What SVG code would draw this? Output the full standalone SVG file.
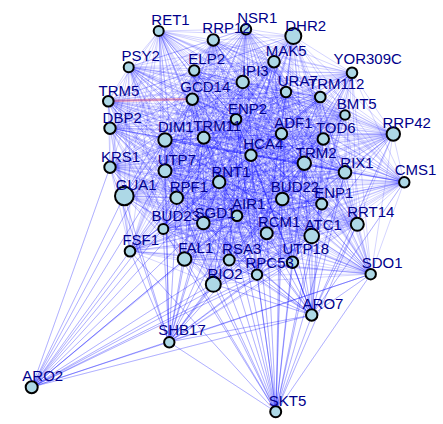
<svg xmlns="http://www.w3.org/2000/svg" width="443" height="424" viewBox="0 0 443 424">
<style>
.e path{fill:none;stroke:#0000ff;stroke-opacity:.17;stroke-width:1;stroke-linejoin:round}
.e .red{stroke:#ff2020;stroke-opacity:.3;stroke-width:2.5}
.n circle{fill:#add8e6;stroke:#000;stroke-width:2}
.n text{font-family:"Liberation Sans",Arial,sans-serif;font-size:15px;fill:#00008b;text-anchor:middle}
</style>
<rect width="443" height="424" fill="#fff"/>
<g id="edges" class="e">
<path d="M129 67 159 31 108 101 129 67 110 128 159 31 194 71 129 67 192 99 159 31 213 40 129 67 246 29 159 31 293 36 129 67 274 62 159 31 352 73 129 67 243 82 159 31 286 92 129 67 320 97 159 31 345 115 129 67 236 119 159 31 281 134 129 67 323 139 159 31 393 134 129 67 165 140 159 31 204 138 129 67 251 155 159 31 304 163 129 67 345 172 159 31 404 182 129 67 110 167 159 31 165 171 129 67 219 182 159 31 124 196 129 67 177 198 159 31 282 199 129 67 322 204 159 31 357 224 129 67 237 216 159 31 203 223 129 67 163 229 159 31 267 233 129 67 312 236 159 31 130 251 129 67 185 259 159 31 229 260 129 67 292 262 159 31 257 275 129 67 371 274 159 31 213 284 129 67"/>
<path d="M110 128 108 101 194 71 110 128 192 99 108 101 213 40 110 128 246 29 108 101 293 36 110 128 274 62 108 101 352 73 110 128 243 82 108 101 286 92 110 128 320 97 108 101 345 115 110 128 236 119 108 101 281 134 110 128 323 139 108 101 393 134 110 128 165 140 108 101 204 138 110 128 251 155 108 101 304 163 110 128 345 172 108 101 404 182 110 128 110 167 108 101 165 171 110 128 219 182 108 101 124 196 110 128 177 198 108 101 282 199 110 128 322 204 108 101 357 224 110 128 237 216 108 101 203 223 110 128 163 229 108 101 267 233 110 128 312 236 108 101 130 251 110 128 185 259 108 101 229 260 110 128 292 262 108 101 257 275 110 128 371 274 108 101 213 284 110 128"/>
<path d="M192 99 194 71 213 40 192 99 246 29 194 71 293 36 192 99 274 62 194 71 352 73 192 99 243 82 194 71 286 92 192 99 320 97 194 71 345 115 192 99 236 119 194 71 281 134 192 99 323 139 194 71 393 134 192 99 165 140 194 71 204 138 192 99 251 155 194 71 304 163 192 99 345 172 194 71 404 182 192 99 110 167 194 71 165 171 192 99 219 182 194 71 124 196 192 99 177 198 194 71 282 199 192 99 322 204 194 71 357 224 192 99 237 216 194 71 203 223 192 99 163 229 194 71 267 233 192 99 312 236 194 71 130 251 192 99 185 259 194 71 229 260 192 99 292 262 194 71 257 275 192 99 371 274 194 71 213 284 192 99"/>
<path d="M246 29 213 40 293 36 246 29 274 62 213 40 352 73 246 29 243 82 213 40 286 92 246 29 320 97 213 40 345 115 246 29 236 119 213 40 281 134 246 29 323 139 213 40 393 134 246 29 165 140 213 40 204 138 246 29 251 155 213 40 304 163 246 29 345 172 213 40 404 182 246 29 110 167 213 40 165 171 246 29 219 182 213 40 124 196 246 29 177 198 213 40 282 199 246 29 322 204 213 40 357 224 246 29 237 216 213 40 203 223 246 29 163 229 213 40 267 233 246 29 312 236 213 40 130 251 246 29 185 259 213 40 229 260 246 29 292 262 213 40 257 275 246 29 371 274 213 40 213 284 246 29"/>
<path d="M274 62 293 36 352 73 274 62 243 82 293 36 286 92 274 62 320 97 293 36 345 115 274 62 236 119 293 36 281 134 274 62 323 139 293 36 393 134 274 62 165 140 293 36 204 138 274 62 251 155 293 36 304 163 274 62 345 172 293 36 404 182 274 62 110 167 293 36 165 171 274 62 219 182 293 36 124 196 274 62 177 198 293 36 282 199 274 62 322 204 293 36 357 224 274 62 237 216 293 36 203 223 274 62 163 229 293 36 267 233 274 62 312 236 293 36 130 251 274 62 185 259 293 36 229 260 274 62 292 262 293 36 257 275 274 62 371 274 293 36 213 284 274 62"/>
<path d="M243 82 352 73 286 92 243 82 320 97 352 73 345 115 243 82 236 119 352 73 281 134 243 82 323 139 352 73 393 134 243 82 165 140 352 73 204 138 243 82 251 155 352 73 304 163 243 82 345 172 352 73 404 182 243 82 110 167 352 73 165 171 243 82 219 182 352 73 124 196 243 82 177 198 352 73 282 199 243 82 322 204 352 73 357 224 243 82 237 216 352 73 203 223 243 82 163 229 352 73 267 233 243 82 312 236 352 73 130 251 243 82 185 259 352 73 229 260 243 82 292 262 352 73 257 275 243 82 371 274 352 73 213 284 243 82"/>
<path d="M320 97 286 92 345 115 320 97 236 119 286 92 281 134 320 97 323 139 286 92 393 134 320 97 165 140 286 92 204 138 320 97 251 155 286 92 304 163 320 97 345 172 286 92 404 182 320 97 110 167 286 92 165 171 320 97 219 182 286 92 124 196 320 97 177 198 286 92 282 199 320 97 322 204 286 92 357 224 320 97 237 216 286 92 203 223 320 97 163 229 286 92 267 233 320 97 312 236 286 92 130 251 320 97 185 259 286 92 229 260 320 97 292 262 286 92 257 275 320 97 371 274 286 92 213 284 320 97"/>
<path d="M236 119 345 115 281 134 236 119 323 139 345 115 393 134 236 119 165 140 345 115 204 138 236 119 251 155 345 115 304 163 236 119 345 172 345 115 404 182 236 119 110 167 345 115 165 171 236 119 219 182 345 115 124 196 236 119 177 198 345 115 282 199 236 119 322 204 345 115 357 224 236 119 237 216 345 115 203 223 236 119 163 229 345 115 267 233 236 119 312 236 345 115 130 251 236 119 185 259 345 115 229 260 236 119 292 262 345 115 257 275 236 119 371 274 345 115 213 284 236 119"/>
<path d="M323 139 281 134 393 134 323 139 165 140 281 134 204 138 323 139 251 155 281 134 304 163 323 139 345 172 281 134 404 182 323 139 110 167 281 134 165 171 323 139 219 182 281 134 124 196 323 139 177 198 281 134 282 199 323 139 322 204 281 134 357 224 323 139 237 216 281 134 203 223 323 139 163 229 281 134 267 233 323 139 312 236 281 134 130 251 323 139 185 259 281 134 229 260 323 139 292 262 281 134 257 275 323 139 371 274 281 134 213 284 323 139"/>
<path d="M165 140 393 134 204 138 165 140 251 155 393 134 304 163 165 140 345 172 393 134 404 182 165 140 110 167 393 134 165 171 165 140 219 182 393 134 124 196 165 140 177 198 393 134 282 199 165 140 322 204 393 134 357 224 165 140 237 216 393 134 203 223 165 140 163 229 393 134 267 233 165 140 312 236 393 134 130 251 165 140 185 259 393 134 229 260 165 140 292 262 393 134 257 275 165 140 371 274 393 134 213 284 165 140"/>
<path d="M251 155 204 138 304 163 251 155 345 172 204 138 404 182 251 155 110 167 204 138 165 171 251 155 219 182 204 138 124 196 251 155 177 198 204 138 282 199 251 155 322 204 204 138 357 224 251 155 237 216 204 138 203 223 251 155 163 229 204 138 267 233 251 155 312 236 204 138 130 251 251 155 185 259 204 138 229 260 251 155 292 262 204 138 257 275 251 155 371 274 204 138 213 284 251 155"/>
<path d="M345 172 304 163 404 182 345 172 110 167 304 163 165 171 345 172 219 182 304 163 124 196 345 172 177 198 304 163 282 199 345 172 322 204 304 163 357 224 345 172 237 216 304 163 203 223 345 172 163 229 304 163 267 233 345 172 312 236 304 163 130 251 345 172 185 259 304 163 229 260 345 172 292 262 304 163 257 275 345 172 371 274 304 163 213 284 345 172"/>
<path d="M110 167 404 182 165 171 110 167 219 182 404 182 124 196 110 167 177 198 404 182 282 199 110 167 322 204 404 182 357 224 110 167 237 216 404 182 203 223 110 167 163 229 404 182 267 233 110 167 312 236 404 182 130 251 110 167 185 259 404 182 229 260 110 167 292 262 404 182 257 275 110 167 371 274 404 182 213 284 110 167"/>
<path d="M219 182 165 171 124 196 219 182 177 198 165 171 282 199 219 182 322 204 165 171 357 224 219 182 237 216 165 171 203 223 219 182 163 229 165 171 267 233 219 182 312 236 165 171 130 251 219 182 185 259 165 171 229 260 219 182 292 262 165 171 257 275 219 182 371 274 165 171 213 284 219 182"/>
<path d="M177 198 124 196 282 199 177 198 322 204 124 196 357 224 177 198 237 216 124 196 203 223 177 198 163 229 124 196 267 233 177 198 312 236 124 196 130 251 177 198 185 259 124 196 229 260 177 198 292 262 124 196 257 275 177 198 371 274 124 196 213 284 177 198"/>
<path d="M322 204 282 199 357 224 322 204 237 216 282 199 203 223 322 204 163 229 282 199 267 233 322 204 312 236 282 199 130 251 322 204 185 259 282 199 229 260 322 204 292 262 282 199 257 275 322 204 371 274 282 199 213 284 322 204"/>
<path d="M237 216 357 224 203 223 237 216 163 229 357 224 267 233 237 216 312 236 357 224 130 251 237 216 185 259 357 224 229 260 237 216 292 262 357 224 257 275 237 216 371 274 357 224 213 284 237 216"/>
<path d="M163 229 203 223 267 233 163 229 312 236 203 223 130 251 163 229 185 259 203 223 229 260 163 229 292 262 203 223 257 275 163 229 371 274 203 223 213 284 163 229"/>
<path d="M312 236 267 233 130 251 312 236 185 259 267 233 229 260 312 236 292 262 267 233 257 275 312 236 371 274 267 233 213 284 312 236"/>
<path d="M185 259 130 251 229 260 185 259 292 262 130 251 257 275 185 259 371 274 130 251 213 284 185 259"/>
<path d="M292 262 229 260 257 275 292 262 371 274 229 260 213 284 292 262"/>
<path d="M371 274 257 275 213 284 371 274"/>
<path d="M312 315 371 274 312 315 357 224 312 315 312 236 312 315 292 262 312 315 257 275 312 315 267 233 312 315 322 204 312 315 282 199 312 315 345 172 312 315 304 163 312 315 323 139 312 315 281 134 312 315 251 155 312 315 237 216 312 315 229 260 312 315 213 284 312 315 185 259 312 315 203 223 312 315 219 182 312 315 236 119 312 315 404 182 312 315 393 134 312 315 177 198 312 315 124 196"/>
<path d="M169 342 124 196 169 342 130 251 169 342 163 229 169 342 185 259 169 342 177 198 169 342 203 223 169 342 165 171 169 342 165 140 169 342 219 182 169 342 237 216 169 342 229 260 169 342 213 284 169 342 257 275 169 342 292 262 169 342 267 233 169 342 312 236 169 342 312 315 169 342 204 138 169 342 251 155 169 342 282 199 169 342 110 167 169 342 371 274 169 342 357 224"/>
<path d="M32 387 110 167 32 387 124 196 32 387 130 251 32 387 163 229 32 387 177 198 32 387 185 259 32 387 203 223 32 387 219 182 32 387 237 216 32 387 213 284 32 387 229 260 32 387 169 342 32 387 257 275 32 387 292 262 32 387 312 236 32 387 312 315 32 387 371 274 32 387 165 140 32 387 165 171 32 387 304 163"/>
<path d="M276 412 169 342 276 412 213 284 276 412 185 259 276 412 229 260 276 412 257 275 276 412 292 262 276 412 267 233 276 412 312 236 276 412 237 216 276 412 203 223 276 412 219 182 276 412 282 199 276 412 322 204 276 412 357 224 276 412 371 274 276 412 312 315 276 412 251 155 276 412 304 163 276 412 345 172 276 412 177 198 276 412 163 229 276 412 281 134 276 412 236 119 276 412 130 251 276 412 286 92"/>
<path class="red" d="M108 101 192 99"/>
</g>
<g id="n-RET1" class="n"><circle cx="158.7" cy="31" r="5"/><text x="170.5" y="25">RET1</text></g>
<g id="n-PSY2" class="n"><circle cx="128.7" cy="67.3" r="5"/><text x="140.7" y="61">PSY2</text></g>
<g id="n-TRM5" class="n"><circle cx="108.3" cy="101.3" r="5.3"/><text x="119" y="96">TRM5</text></g>
<g id="n-DBP2" class="n"><circle cx="110" cy="128.3" r="5.7"/><text x="122.2" y="123.3">DBP2</text></g>
<g id="n-ELP2" class="n"><circle cx="194.2" cy="70.5" r="5.2"/><text x="206.7" y="64.3">ELP2</text></g>
<g id="n-GCD14" class="n"><circle cx="192.3" cy="99.3" r="5.7"/><text x="205.3" y="92">GCD14</text></g>
<g id="n-NSR1" class="n"><circle cx="246" cy="29.3" r="5.2"/><text x="257.3" y="22.7">NSR1</text></g>
<g id="n-RRP12" class="n"><circle cx="213.3" cy="40" r="5.7"/><text x="226.5" y="33.3">RRP12</text></g>
<g id="n-DHR2" class="n"><circle cx="293.3" cy="36" r="8"/><text x="305.7" y="30.7">DHR2</text></g>
<g id="n-MAK5" class="n"><circle cx="274" cy="61.7" r="5.8"/><text x="286.2" y="56">MAK5</text></g>
<g id="n-YOR309C" class="n"><circle cx="352" cy="72.7" r="5.3"/><text x="367.7" y="64.3">YOR309C</text></g>
<g id="n-IPI3" class="n"><circle cx="242.7" cy="82" r="6.2"/><text x="255.3" y="76">IPI3</text></g>
<g id="n-URA7" class="n"><circle cx="286" cy="92" r="5.2"/><text x="297.8" y="86">URA7</text></g>
<g id="n-TRM112" class="n"><circle cx="320.3" cy="97" r="5.3"/><text x="336.2" y="89">TRM112</text></g>
<g id="n-BMT5" class="n"><circle cx="345" cy="115" r="4.8"/><text x="356.7" y="109.3">BMT5</text></g>
<g id="n-ENP2" class="n"><circle cx="236" cy="119.3" r="5.3"/><text x="247.5" y="114.3">ENP2</text></g>
<g id="n-ADF1" class="n"><circle cx="281.5" cy="133.7" r="5.7"/><text x="293.3" y="128.3">ADF1</text></g>
<g id="n-TOD6" class="n"><circle cx="323.3" cy="139" r="5.7"/><text x="335.8" y="133.3">TOD6</text></g>
<g id="n-RRP42" class="n"><circle cx="393.3" cy="134" r="6.7"/><text x="406.7" y="127.7">RRP42</text></g>
<g id="n-DIM1" class="n"><circle cx="165" cy="140" r="6.7"/><text x="175.8" y="132.3">DIM1</text></g>
<g id="n-TRM11" class="n"><circle cx="203.7" cy="137.7" r="6"/><text x="217.2" y="130.7">TRM11</text></g>
<g id="n-HCA4" class="n"><circle cx="251" cy="155.2" r="5.7"/><text x="263.3" y="149">HCA4</text></g>
<g id="n-TRM2" class="n"><circle cx="304.3" cy="163.3" r="6.7"/><text x="316.2" y="157.7">TRM2</text></g>
<g id="n-RIX1" class="n"><circle cx="345" cy="172.3" r="6.3"/><text x="357" y="167.7">RIX1</text></g>
<g id="n-CMS1" class="n"><circle cx="404.3" cy="182.3" r="5.2"/><text x="415.5" y="175.3">CMS1</text></g>
<g id="n-KRS1" class="n"><circle cx="110" cy="167.3" r="5.7"/><text x="120.5" y="161.7">KRS1</text></g>
<g id="n-UTP7" class="n"><circle cx="165" cy="170.8" r="6.5"/><text x="176.8" y="165">UTP7</text></g>
<g id="n-RNT1" class="n"><circle cx="219.2" cy="182" r="6.2"/><text x="231" y="176.7">RNT1</text></g>
<g id="n-GUA1" class="n"><circle cx="124.3" cy="196" r="9.3"/><text x="136.3" y="190">GUA1</text></g>
<g id="n-RPF1" class="n"><circle cx="176.7" cy="197.7" r="6.3"/><text x="188.8" y="191.7">RPF1</text></g>
<g id="n-ENP1" class="n"><circle cx="321.7" cy="204" r="5.5"/><text x="333.8" y="197.7">ENP1</text></g>
<g id="n-BUD22" class="n"><circle cx="282.3" cy="199" r="6.3"/><text x="295" y="191.7">BUD22</text></g>
<g id="n-RRT14" class="n"><circle cx="357.3" cy="224.3" r="6.5"/><text x="370.8" y="217.3">RRT14</text></g>
<g id="n-AIR1" class="n"><circle cx="237" cy="215.7" r="5.3"/><text x="248.8" y="209">AIR1</text></g>
<g id="n-SGD1" class="n"><circle cx="203.3" cy="223" r="6.3"/><text x="215" y="218.3">SGD1</text></g>
<g id="n-BUD23" class="n"><circle cx="163.3" cy="229" r="5"/><text x="175.8" y="221">BUD23</text></g>
<g id="n-RCM1" class="n"><circle cx="266.7" cy="233.3" r="6"/><text x="279.2" y="226.7">RCM1</text></g>
<g id="n-ATC1" class="n"><circle cx="311.7" cy="236" r="7.3"/><text x="323.3" y="230">ATC1</text></g>
<g id="n-FSF1" class="n"><circle cx="130" cy="251.3" r="5.3"/><text x="140.8" y="245">FSF1</text></g>
<g id="n-FAL1" class="n"><circle cx="184.5" cy="259" r="6.8"/><text x="195.8" y="252.7">FAL1</text></g>
<g id="n-RSA3" class="n"><circle cx="229.2" cy="260" r="5.5"/><text x="241.7" y="254.3">RSA3</text></g>
<g id="n-UTP18" class="n"><circle cx="292.5" cy="262.3" r="5.7"/><text x="305.8" y="254.3">UTP18</text></g>
<g id="n-RPC53" class="n"><circle cx="257" cy="274.7" r="5.2"/><text x="269.7" y="267.7">RPC53</text></g>
<g id="n-SDO1" class="n"><circle cx="370.7" cy="274.2" r="5.2"/><text x="382.2" y="268.3">SDO1</text></g>
<g id="n-RIO2" class="n"><circle cx="213.3" cy="284.3" r="7.5"/><text x="225" y="279">RIO2</text></g>
<g id="n-ARO7" class="n"><circle cx="311.7" cy="315" r="5.7"/><text x="323" y="309">ARO7</text></g>
<g id="n-SHB17" class="n"><circle cx="169.3" cy="342.3" r="5.2"/><text x="182" y="335">SHB17</text></g>
<g id="n-ARO2" class="n"><circle cx="31.7" cy="387.3" r="6"/><text x="42.8" y="380.7">ARO2</text></g>
<g id="n-SKT5" class="n"><circle cx="275.7" cy="411.7" r="5.5"/><text x="287.5" y="406">SKT5</text></g>
</svg>
